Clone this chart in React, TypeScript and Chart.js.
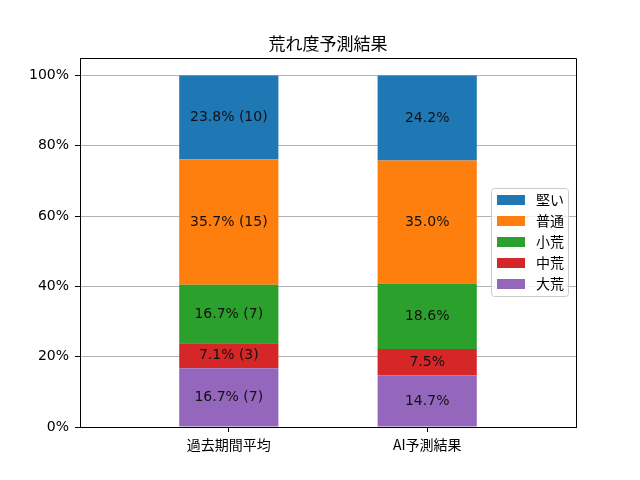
import { useRef, useEffect } from "react"
import { Chart, registerables, type Plugin } from "chart.js"

Chart.register(...registerables)

const categories = ["過去期間平均", "AI予測結果"]
// stacking order, bottom to top
const seriesNames = ["大荒", "中荒", "小荒", "普通", "堅い"]
const seriesColors = ["#9467bd", "#d62728", "#2ca02c", "#ff7f0e", "#1f77b4"]
const pastPct = [16.7, 7.1, 16.7, 35.7, 23.8]
const pastCounts = [7, 3, 7, 15, 10]
const aiPct = [14.7, 7.5, 18.6, 35.0, 24.2]
const yTicks = [0, 20, 40, 60, 80, 100]

const FONT = '"DejaVu Sans", "Noto Sans CJK JP", sans-serif'
const JP_FONT = '"Noto Sans CJK JP", "DejaVu Sans", sans-serif'

const labelPlugin: Plugin = {
  id: "barLabels",
  afterDatasetsDraw(chart) {
    const ctx = chart.ctx
    ctx.save()
    ctx.font = `14px ${FONT}`
    ctx.fillStyle = "#111"
    ctx.textAlign = "center"
    ctx.textBaseline = "middle"
    chart.data.datasets.forEach((ds, i) => {
      const meta = chart.getDatasetMeta(i)
      meta.data.forEach((el: any, j) => {
        const text = j === 0 ? `${pastPct[i].toFixed(1)}% (${pastCounts[i]})` : `${aiPct[i].toFixed(1)}%`
        ctx.fillText(text, el.x, (el.y + el.base) / 2)
      })
    })
    ctx.restore()
  },
}

const framePlugin: Plugin = {
  id: "frame",
  afterDraw(chart) {
    const { ctx, chartArea: a } = chart
    ctx.save()
    // top and right spines
    ctx.strokeStyle = "#000"
    ctx.lineWidth = 1
    ctx.beginPath()
    ctx.moveTo(a.left, a.top + 0.5)
    ctx.lineTo(a.right + 0.5, a.top + 0.5)
    ctx.lineTo(a.right + 0.5, a.bottom)
    ctx.stroke()

    // title
    ctx.fillStyle = "#000"
    ctx.font = `17px ${JP_FONT}`
    ctx.textAlign = "center"
    ctx.textBaseline = "middle"
    ctx.fillText("荒れ度予測結果", (a.left + a.right) / 2, 44)

    // legend, reversed order like matplotlib's stacked legend
    const lx = 491.5
    const ly = 188.5
    ctx.beginPath()
    ctx.roundRect(lx, ly, 77, 108, 3)
    ctx.fillStyle = "rgba(255,255,255,0.8)"
    ctx.fill()
    ctx.strokeStyle = "#cccccc"
    ctx.stroke()
    ctx.font = `14px ${JP_FONT}`
    ctx.textAlign = "left"
    for (let k = 0; k < seriesNames.length; k++) {
      const idx = seriesNames.length - 1 - k
      const cy = 200 + k * 21
      ctx.fillStyle = seriesColors[idx]
      ctx.fillRect(497, cy - 5, 28, 10)
      ctx.fillStyle = "#000"
      ctx.fillText(seriesNames[idx], 536, cy)
    }
    ctx.restore()
  },
}

export default function App() {
  const canvasRef = useRef<HTMLCanvasElement>(null)
  const chartRef = useRef<Chart | null>(null)

  useEffect(() => {
    document.body.style.margin = "0"
    if (!canvasRef.current) return
    if (chartRef.current) chartRef.current.destroy()

    const ctx = canvasRef.current.getContext("2d")
    if (!ctx) return

    chartRef.current = new Chart(ctx, {
      type: "bar",
      data: {
        datasets: seriesNames.map((name, i) => ({
          label: name,
          data: [
            { x: 0, y: pastPct[i] },
            { x: 1, y: aiPct[i] },
          ],
          backgroundColor: seriesColors[i],
          borderWidth: 0,
          barPercentage: 0.5,
          categoryPercentage: 1,
        })),
      },
      options: {
        responsive: false,
        animation: false,
        layout: { padding: { left: 0, top: 58, right: 64, bottom: 0 } },
        plugins: {
          legend: { display: false },
          title: { display: false },
          tooltip: { enabled: false },
        },
        scales: {
          x: {
            type: "linear",
            stacked: true,
            offset: false,
            min: -0.75,
            max: 1.75,
            afterBuildTicks: (scale) => {
              scale.ticks = [{ value: 0 }, { value: 1 }]
            },
            afterFit: (scale) => {
              scale.height = 53
            },
            grid: {
              display: true,
              offset: false,
              drawOnChartArea: false,
              drawTicks: true,
              tickLength: 5,
              tickColor: "#000",
            },
            border: { display: true, color: "#000", width: 1 },
            ticks: {
              color: "#000",
              padding: 4,
              font: { family: JP_FONT, size: 14 },
              maxRotation: 0,
              autoSkip: false,
              callback: (v) => categories[Number(v)] ?? "",
            },
          },
          y: {
            stacked: true,
            min: 0,
            max: 105,
            afterBuildTicks: (scale) => {
              scale.ticks = yTicks.map((value) => ({ value }))
            },
            afterFit: (scale) => {
              scale.width = 80
            },
            grid: {
              color: "#b0b0b0",
              lineWidth: 1,
              tickLength: 5,
              tickColor: "#000",
            },
            border: { display: true, color: "#000", width: 1 },
            ticks: {
              color: "#000",
              padding: 6,
              font: { family: FONT, size: 14 },
              callback: (v) => `${v}%`,
            },
          },
        },
      },
      plugins: [labelPlugin, framePlugin],
    })

    return () => {
      if (chartRef.current) {
        chartRef.current.destroy()
        chartRef.current = null
      }
    }
  }, [])

  return (
    <div style={{ width: "640px", height: "480px", background: "#fff" }}>
      <canvas ref={canvasRef} width={640} height={480}></canvas>
    </div>
  )
}
